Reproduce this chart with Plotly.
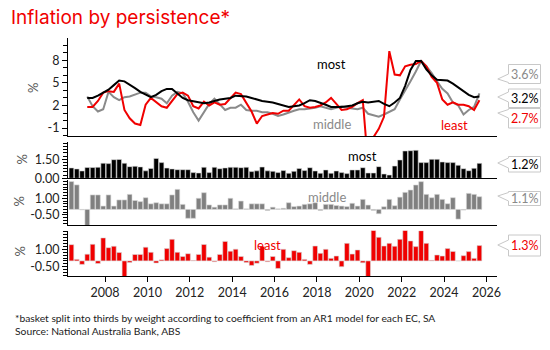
import plotly.graph_objects as go
import pandas as pd

# ---------------- data ----------------
# quarterly observations, Q2 2006 .. Q3 2025
quarters = pd.date_range("2006-06-01", periods=78, freq="3MS")

# quarterly % change by persistence third (bars)
most_q = [0.82, 0.74, 0.58, 0.85, 0.85, 0.87, 1.19, 1.16, 1.47, 1.49,
          1.19, 0.92, 0.95, 0.90, 0.59, 0.78, 1.57, 1.24, 0.81, 0.74,
          0.68, 0.68, 0.68, 0.45, 0.42, 0.87, 0.45, 0.87, 0.76, 0.82,
          0.87, 0.87, 0.84, 0.87, 0.53, 0.59, 0.89, 0.59, 0.55, 0.45,
          0.61, 0.40, 0.55, 0.77, 0.61, 0.84, 0.58, 0.40, 0.66, 0.40,
          0.58, 0.45, 0.37, 0.66, 0.66, 0.84, 0.42, 0.42, 0.92, 0.34,
          0.26, 0.97, 1.45, 2.16, 2.18, 2.21, 1.24, 1.24, 1.50, 1.50,
          1.29, 1.24, 1.24, 1.03, 0.76, 0.60, 0.79, 1.18]
middle_q = [2.50, 2.20, -0.04, -1.50, 1.30, 1.30, 0.30, 1.30, 0.30, 0.85,
            0.85, 1.35, 0.80, 0.70, 1.05, 0.50, 0.60, 0.50, 0.50, 1.30,
            1.80, 0.45, -0.80, -0.80, 1.00, 1.50, 0.40, 0.20, 0.40, 0.40,
            1.00, 0.05, 0.75, 0.05, 0.50, 0.50, 0.50, -0.10, 0.20, 0.05,
            0.10, 0.60, 0.25, 0.30, 0.45, 0.50, 0.60, -0.10, 0.45, 0.45,
            0.35, 0.30, 0.25, 0.55, 0.30, 0.90, 0.39, -0.09, -0.39, 0.24,
            0.90, 0.33, 1.10, 1.53, 1.74, 2.19, 2.49, 1.35, 1.05, 1.35,
            0.90, 0.51, 1.05, -0.87, -0.06, 1.44, 1.35, 1.14]
least_q = [1.40, 0.13, -0.30, 0.58, 1.43, -0.22, 1.98, 1.14, 1.26, 0.72,
           -1.74, -0.14, 0.55, 0.56, 1.18, 0.74, -0.18, 0.09, 1.06, 1.86,
           0.74, 0.38, 0.62, 0.04, 0.56, 1.41, 0.32, -0.07, 0.56, 1.68,
           0.84, 1.01, 0.38, -0.14, -0.39, -0.20, 1.25, -0.07, 0.38, -0.65,
           1.00, 0.28, 0.88, 0.74, 0.13, -0.30, 1.28, 0.65, 1.00, 0.22,
           0.42, -0.50, 1.51, 0.59, 0.94, -0.16, -7.40, 4.40, 2.03, 1.28,
           1.51, 1.26, 1.86, 2.66, 1.72, 1.23, 2.60, 1.51, 0.05, 0.51,
           0.42, 1.06, 0.82, 0.00, 0.45, 0.80, 0.22, 1.32]

# year-ended % change (lines), Q1 2007 .. Q3 2025
line_dates = quarters[3:]
most_yoy = [3.0, 3.0, 3.3, 3.7, 4.1, 4.7, 5.3, 5.2, 4.8, 4.3,
            3.8, 3.4, 3.1, 3.4, 3.9, 4.2, 4.2, 3.6, 3.0, 2.7,
            2.6, 2.5, 2.3, 2.4, 2.6, 2.8, 2.9, 3.0, 3.3, 3.3,
            3.2, 3.0, 2.8, 2.6, 2.5, 2.4, 2.2, 2.0, 1.8, 1.9,
            2.0, 2.3, 2.7, 2.6, 2.4, 2.1, 1.8, 1.8, 1.8, 1.9,
            2.0, 2.3, 2.5, 2.4, 2.5, 2.6, 2.2, 1.9, 2.4, 3.0,
            4.6, 6.7, 7.9, 7.9, 6.8, 6.0, 5.4, 5.3, 5.3, 4.9,
            4.4, 3.8, 3.4, 3.1, 3.2]
middle_yoy = [3.2, 1.9, 1.2, 1.5, 3.8, 3.1, 2.7, 3.1, 3.2, 3.4,
              3.7, 3.7, 3.2, 3.1, 2.9, 2.3, 3.3, 3.8, 3.6, 2.5,
              1.1, 0.0, 1.2, 2.2, 2.9, 2.2, 1.4, 1.7, 1.7, 2.1,
              1.4, 1.3, 1.3, 1.1, 1.1, 0.9, 0.6, 0.8, 1.0, 1.3,
              1.5, 1.5, 1.6, 1.7, 1.9, 1.7, 1.5, 1.7, 1.9, 1.7,
              1.6, 1.5, 1.7, 0.9, 0.7, 0.5, 0.8, 1.1, 1.5, 2.8,
              3.9, 5.2, 6.5, 7.9, 7.2, 6.3, 5.2, 4.2, 3.6, 2.4,
              2.0, 0.8, 1.4, 1.8, 3.6]
least_yoy = [1.8, 1.8, 2.6, 3.7, 3.9, 3.8, 4.9, 1.4, 0.3, -0.4,
             -0.6, 2.1, 3.0, 2.4, 1.9, 1.7, 2.6, 3.5, 3.7, 3.3,
             1.9, 1.6, 2.5, 2.0, 2.4, 2.1, 2.2, 3.0, 3.7, 3.5,
             2.4, 1.2, -0.4, 0.6, 0.8, 1.0, 0.9, 1.3, 1.3, 2.0,
             2.8, 1.9, 1.7, 1.8, 2.0, 2.4, 3.0, 2.2, 1.4, 1.5,
             1.8, 2.3, 2.7, -6.0, -2.2, -1.1, 0.5, 9.2, 6.1, 6.0,
             7.2, 7.4, 7.5, 7.9, 7.2, 5.8, 5.0, 2.8, 2.1, 2.4,
             2.1, 2.1, 1.9, 1.4, 2.7]

series_names = ["most", "middle", "least"]
top_ticks = [-1, 2, 5, 8]
most_ticks = [0.0, 1.5]
mid_ticks = [-0.5, 1.0]
least_ticks = [-0.5, 1.0]

title_text = "Inflation by persistence*"
note_1 = "*basket split into thirds by weight according to coefficient from an AR1 model for each EC, SA"
note_2 = "Source: National Australia Bank, ABS"

# ---------------- styling ----------------
RED = "#F00000"
GREY = "#8A8A8A"
BLACK = "#000000"
FONT = "Lato"

W, H = 550, 350
ML, MR, MT, MB = 68, 53, 38, 74
PW, PH = W - ML - MR, H - MT - MB


def px(x):
    return (x - ML) / PW


def py(y):
    return (H - MB - y) / PH


fig = go.Figure()

# top panel lines
fig.add_trace(go.Scatter(x=line_dates, y=middle_yoy, mode="lines",
                         line=dict(color=GREY, width=2), xaxis="x2", yaxis="y"))
fig.add_trace(go.Scatter(x=line_dates, y=least_yoy, mode="lines",
                         line=dict(color=RED, width=2), xaxis="x2", yaxis="y"))
fig.add_trace(go.Scatter(x=line_dates, y=most_yoy, mode="lines",
                         line=dict(color=BLACK, width=2), xaxis="x2", yaxis="y"))

bar_line = dict(color="#d8d8d8", width=0.6)
fig.add_trace(go.Bar(x=quarters, y=most_q, marker=dict(color=BLACK, line=bar_line),
                     xaxis="x3", yaxis="y2"))
fig.add_trace(go.Bar(x=quarters, y=middle_q, marker=dict(color="#808080", line=bar_line),
                     xaxis="x4", yaxis="y3"))
fig.add_trace(go.Bar(x=quarters, y=least_q, marker=dict(color=RED, line=bar_line),
                     xaxis="x", yaxis="y4"))

tickfont = dict(family=FONT, size=12.5, color="#222")
common_y = dict(showgrid=False, zeroline=False, showline=True, linecolor="black",
                linewidth=1, ticks="outside", ticklen=5, tickcolor="black",
                tickfont=tickfont, fixedrange=True)


def minor(d):
    return dict(tickmode="linear", tick0=0, dtick=d, ticks="outside",
                ticklen=4, tickcolor="black", tickwidth=1)


xr = ["2006-04-03", "2026-07-01"]
common_x = dict(type="date", range=xr, showgrid=False, zeroline=False,
                showline=True, linecolor="black", linewidth=1)

fig.update_layout(
    width=W, height=H,
    margin=dict(l=ML, r=MR, t=MT, b=MB),
    paper_bgcolor="white", plot_bgcolor="white",
    showlegend=False, bargap=0.1,
    title=dict(text=title_text, x=11 / W, xanchor="left", xref="container",
               y=1 - 17 / H, yanchor="middle", yref="container", pad=dict(l=0, r=0, t=0, b=0),
               font=dict(family="Inter", size=19, color=RED)),
    xaxis=dict(**common_x, anchor="y4", ticks="outside", ticklen=5,
               tickcolor="black", dtick="M24", tick0="2008-01-01",
               tickformat="%Y", tickfont=tickfont),
    xaxis2=dict(**common_x, anchor="y", matches="x", showticklabels=False),
    xaxis3=dict(**common_x, anchor="y2", matches="x", showticklabels=False),
    xaxis4=dict(**common_x, anchor="y3", matches="x", showticklabels=False),
    yaxis=dict(**common_y, domain=[py(136), py(38)], range=[-2.05, 10.95],
               tickmode="array", tickvals=top_ticks,
               ticktext=[str(v) for v in top_ticks], minor=minor(1)),
    yaxis2=dict(**common_y, domain=[py(178.3), py(141.7)], range=[0, 2.89],
                tickmode="array", tickvals=most_ticks,
                ticktext=[f"{v:.2f}" for v in most_ticks], minor=minor(0.25)),
    yaxis3=dict(**common_y, domain=[py(225), py(180)], range=[-1.40, 2.64],
                tickmode="array", tickvals=mid_ticks,
                ticktext=[f"{v:.2f}" for v in mid_ticks], minor=minor(0.25)),
    yaxis4=dict(**common_y, domain=[py(276), py(230.7)], range=[-1.30, 2.60],
                tickmode="array", tickvals=least_ticks,
                ticktext=[f"{v:.2f}" for v in least_ticks], minor=minor(0.25)),
)

ann = []
lab_font = dict(family=FONT, size=13)
# series labels inside panels
ann.append(dict(x="2018-09-10", y=7.5, xref="x2", yref="y", text=series_names[0],
                showarrow=False, font=dict(**lab_font, color=BLACK)))
ann.append(dict(x="2018-09-24", y=-0.45, xref="x2", yref="y", text=series_names[1],
                showarrow=False, font=dict(**lab_font, color=GREY)))
ann.append(dict(x="2024-06-20", y=-0.6, xref="x2", yref="y", text=series_names[2],
                showarrow=False, font=dict(**lab_font, color=RED)))
ann.append(dict(x="2020-02-20", y=1.76, xref="x3", yref="y2", text=series_names[0],
                showarrow=False, font=dict(**lab_font, color=BLACK)))
ann.append(dict(x="2018-06-28", y=1.11, xref="x4", yref="y3", text=series_names[1],
                showarrow=False, font=dict(**lab_font, color=GREY)))
ann.append(dict(x="2015-09-01", y=1.37, xref="x", yref="y4", text=series_names[2],
                showarrow=False, font=dict(**lab_font, color=RED)))

# % axis titles
for xx, yy in [(33, 88), (21.5, 160), (18.5, 202), (19.5, 252)]:
    ann.append(dict(x=px(xx), y=py(yy), xref="paper", yref="paper", text="%",
                    textangle=-90, showarrow=False, xanchor="center", yanchor="middle",
                    font=dict(family=FONT, size=13, color="#555")))

# footnotes
ann.append(dict(x=px(13), y=py(317.5), xref="paper", yref="paper", text=note_1,
                xanchor="left", yanchor="middle", showarrow=False,
                font=dict(family=FONT, size=10.3, color="#222")))
ann.append(dict(x=px(13), y=py(330.5), xref="paper", yref="paper", text=note_2,
                xanchor="left", yanchor="middle", showarrow=False,
                font=dict(family=FONT, size=10.3, color="#222")))

# end-value callouts (box with a left-pointing notch)
callouts = [
    (f"{middle_yoy[-1]:.1f}%", GREY, 64.5, 83.5, 79),
    (f"{most_yoy[-1]:.1f}%", BLACK, 89, 107.5, 97),
    (f"{least_yoy[-1]:.1f}%", RED, 108.5, 128, 113),
    (f"{most_q[-1]:.1f}%", BLACK, 156.5, 172, 163),
    (f"{middle_q[-1]:.1f}%", GREY, 191.5, 205.5, 196),
    (f"{least_q[-1]:.1f}%", RED, 235, 256, 245),
]
shapes = []
bx0, bx1, tipx = 508.5, 540.5, 497.8
for text, col, top, bot, tip in callouts:
    b0 = max(top + 1, tip - 5)
    b1 = min(bot - 1, tip + 5)
    path = (f"M {px(bx0)},{py(top)} L {px(bx1)},{py(top)} L {px(bx1)},{py(bot)} "
            f"L {px(bx0)},{py(bot)} L {px(bx0)},{py(b1)} L {px(tipx)},{py(tip)} "
            f"L {px(bx0)},{py(b0)} Z")
    shapes.append(dict(type="path", path=path, xref="paper", yref="paper",
                       line=dict(color="#c8c8c8", width=1), fillcolor="white"))
    ann.append(dict(x=px((bx0 + bx1) / 2), y=py((top + bot) / 2), xref="paper",
                    yref="paper", text=text, showarrow=False,
                    xanchor="center", yanchor="middle",
                    font=dict(family=FONT, size=12.5, color=col)))

fig.update_layout(annotations=ann, shapes=shapes)
fig.write_html("out.html")
